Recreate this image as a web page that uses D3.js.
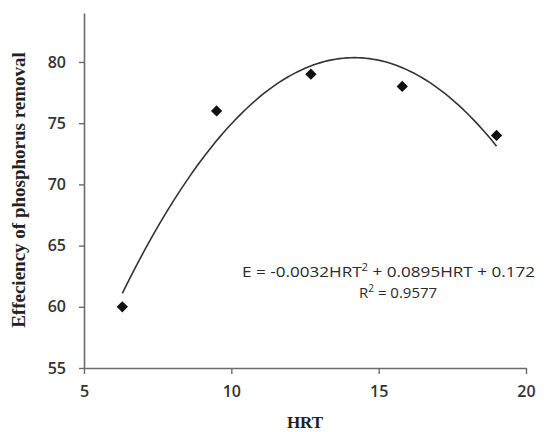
<!DOCTYPE html>
<html>
<head>
<meta charset="utf-8">
<script src="https://cdn.jsdelivr.net/npm/d3@7"></script>
<style>
  body { margin: 0; background: #fff; }
  svg { display: block; }
</style>
</head>
<body>
<div class="canvas"></div>
<script>
// data
const hrt = [6.3, 9.5, 12.7, 15.8, 19];
const efficiency = [60, 76, 79, 78, 74];
const xTicks = [5, 10, 15, 20];
const yTicks = [55, 60, 65, 70, 75, 80];
const equationText = ['E = -0.0032HRT', '2', ' + 0.0895HRT + 0.172'];
const r2Text = ['R', '2', ' = 0.9577'];

const dims = { width: 545, height: 432 };
const plot = { left: 84, right: 526, top: 13, bottom: 368 };

const svg = d3.select('.canvas')
    .append('svg')
    .attr('width', dims.width)
    .attr('height', dims.height);

const x = d3.scaleLinear().domain([5, 20]).range([plot.left, plot.right]);
const y = d3.scaleLinear().domain([55, 84]).range([plot.bottom, plot.top]);

// quadratic least squares fit (the trendline)
const fitQuad = (xs, ys) => {
    let s = [0, 0, 0, 0, 0], t = [0, 0, 0];
    xs.forEach((v, i) => {
        for (let k = 0; k < 5; k++) s[k] += Math.pow(v, k);
        for (let k = 0; k < 3; k++) t[k] += ys[i] * Math.pow(v, k);
    });
    const m = [[s[0], s[1], s[2], t[0]], [s[1], s[2], s[3], t[1]], [s[2], s[3], s[4], t[2]]];
    for (let i = 0; i < 3; i++) {
        for (let j = i + 1; j < 3; j++) {
            const f = m[j][i] / m[i][i];
            for (let k = i; k < 4; k++) m[j][k] -= f * m[i][k];
        }
    }
    const c = [0, 0, 0];
    for (let i = 2; i >= 0; i--) {
        let sum = m[i][3];
        for (let k = i + 1; k < 3; k++) sum -= m[i][k] * c[k];
        c[i] = sum / m[i][i];
    }
    return c;
};
const coef = fitQuad(hrt, efficiency);
const fitted = d3.range(0, 101).map(i => {
    const v = hrt[0] + (hrt[hrt.length - 1] - hrt[0]) * i / 100;
    return [v, coef[0] + coef[1] * v + coef[2] * v * v];
});

const axisColour = '#6b6b6b';
const tickFont = "'Open Sans', sans-serif";

// x axis
const xAxis = svg.append('g')
    .attr('transform', `translate(0, ${plot.bottom})`)
    .call(d3.axisBottom(x).tickValues(xTicks).tickSize(6).tickSizeOuter(0).tickPadding(12));
// y axis
const yAxis = svg.append('g')
    .attr('transform', `translate(${plot.left}, 0)`)
    .call(d3.axisLeft(y).tickValues(yTicks).tickSize(5).tickSizeOuter(0).tickPadding(13));

[xAxis, yAxis].forEach(g => {
    g.select('.domain').attr('stroke', axisColour).attr('stroke-width', 1.6);
    g.selectAll('.tick line').attr('stroke', axisColour).attr('stroke-width', 1.4);
    g.selectAll('.tick text')
        .attr('fill', '#333')
        .style('font-family', tickFont)
        .style('font-size', '16px')
        .style('font-weight', 600);
});

// trendline
svg.append('path')
    .datum(fitted)
    .attr('fill', 'none')
    .attr('stroke', '#333')
    .attr('stroke-width', 1.6)
    .attr('d', d3.line().x(d => x(d[0])).y(d => y(d[1])));

// diamond markers
svg.append('g')
    .selectAll('path')
    .data(hrt.map((v, i) => [v, efficiency[i]]))
    .enter()
    .append('path')
        .attr('d', d3.symbol().type(d3.symbolSquare).size(64))
        .attr('transform', d => `translate(${x(d[0])}, ${y(d[1])}) rotate(45)`)
        .attr('fill', '#111');

// axis titles
svg.append('text')
    .attr('x', (plot.left + plot.right) / 2)
    .attr('y', 428)
    .attr('text-anchor', 'middle')
    .style('font-family', "'Liberation Serif', serif")
    .style('font-weight', 'bold')
    .style('font-size', '17px')
    .attr('fill', '#222')
    .text('HRT');

svg.append('text')
    .attr('transform', 'translate(25, 190) rotate(-90)')
    .attr('text-anchor', 'middle')
    .style('font-family', "'Liberation Serif', serif")
    .style('font-weight', 'bold')
    .style('font-size', '19px')
    .attr('fill', '#222')
    .text('Effeciency of phosphorus removal');

// equation labels
const addSup = (parts, x0, cy, len) => {
    const t = svg.append('text')
        .attr('x', x0)
        .attr('y', cy)
        .style('font-family', tickFont)
        .style('font-size', '15px')
        .attr('fill', '#2a2a2a');
    if (len) t.attr('textLength', len).attr('lengthAdjust', 'spacingAndGlyphs');
    t.append('tspan').text(parts[0]);
    t.append('tspan').attr('dy', -6).style('font-size', '10px').text(parts[1]);
    t.append('tspan').attr('dy', 6).text(parts[2]);
    return t;
};
addSup(equationText, 242, 277, 293);
addSup(r2Text, 359, 298);
</script>
</body>
</html>
